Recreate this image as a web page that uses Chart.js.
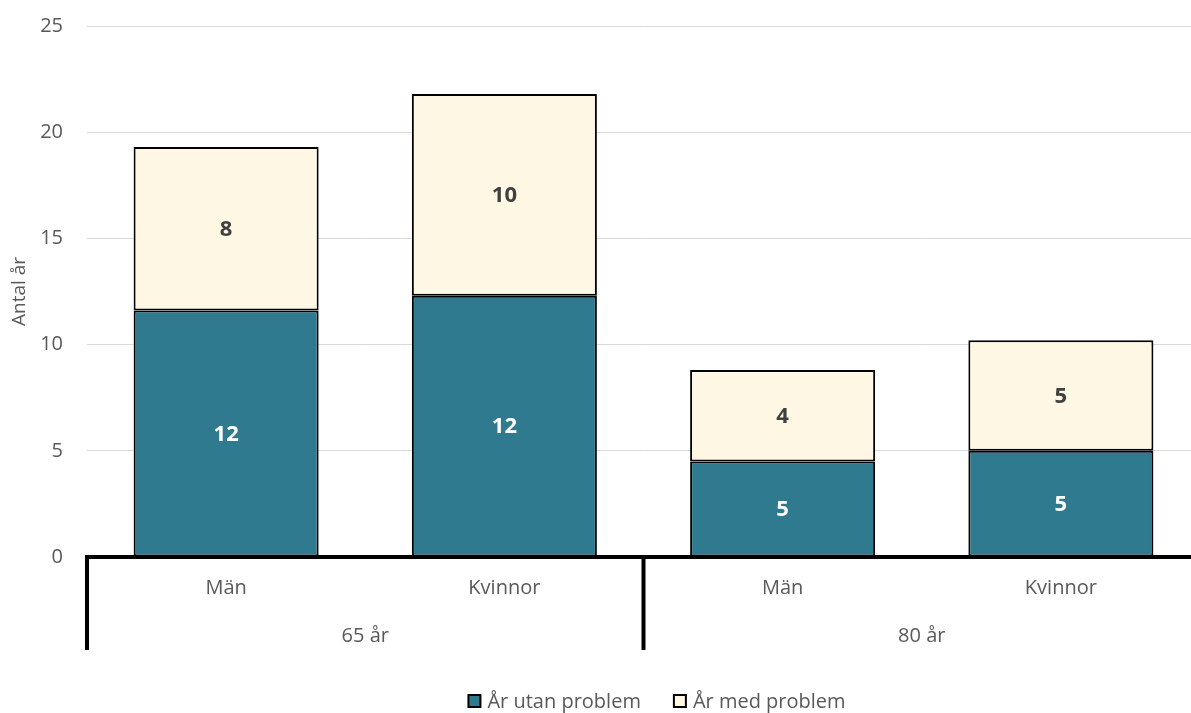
<!DOCTYPE html>
<html>
    <head>
        <meta charset="utf-8">
        <title>Antal år med och utan problem</title>
        <script src="https://cdn.jsdelivr.net/npm/chart.js@4.4.1/dist/chart.umd.min.js"></script>
        <style>
            html, body { margin: 0; padding: 0; background: #fff; overflow: hidden; }
            #wrap { position: relative; width: 1200px; height: 713px; }
        </style>
    </head>
    <body>
        <div id="wrap"><canvas id="myChart"></canvas></div>

        <script>
            // age groups, each spanning two bars
            const groups = ['65 år', '80 år'];
            const sexes = ['Män', 'Kvinnor', 'Män', 'Kvinnor'];
            // years without / with problems
            const utanProblem = [11.6, 12.3, 4.5, 5.0];
            const medProblem = [7.7, 9.5, 4.3, 5.2];
            const yTicks = [0, 5, 10, 15, 20, 25];

            const textGrey = '#595959';
            const font = '"Open Sans", "DejaVu Sans", sans-serif';

            const extras = {
                id: 'extras',
                afterDatasetsDraw(chart) {
                    const ctx = chart.ctx;
                    const area = chart.chartArea;
                    const x = chart.scales.x;

                    // value labels inside each segment
                    ctx.save();
                    ctx.font = 'bold 22px ' + font;
                    ctx.textAlign = 'center';
                    ctx.textBaseline = 'middle';
                    chart.data.datasets.forEach((ds, i) => {
                        chart.getDatasetMeta(i).data.forEach((bar, j) => {
                            ctx.fillStyle = i === 0 ? '#ffffff' : '#404040';
                            ctx.fillText(Math.round(ds.data[j]), bar.x, (bar.y + bar.base) / 2 + 1);
                        });
                    });
                    ctx.restore();

                    // thick baseline + group dividers
                    ctx.save();
                    ctx.strokeStyle = '#000';
                    ctx.lineWidth = 4;
                    ctx.beginPath();
                    ctx.moveTo(area.left - 2, area.bottom);
                    ctx.lineTo(area.right, area.bottom);
                    const step = x.getPixelForValue(1) - x.getPixelForValue(0);
                    for (let g = 0; g < groups.length; g++) {
                        const lx = x.getPixelForValue(g * 2) - step / 2;
                        ctx.moveTo(lx, area.bottom);
                        ctx.lineTo(lx, area.bottom + 93);
                    }
                    ctx.stroke();
                    ctx.restore();

                    // category and group labels
                    ctx.save();
                    ctx.font = '20px ' + font;
                    ctx.fillStyle = textGrey;
                    ctx.textAlign = 'center';
                    ctx.textBaseline = 'middle';
                    sexes.forEach((s, i) => ctx.fillText(s, x.getPixelForValue(i), area.bottom + 31));
                    groups.forEach((g, i) => {
                        const cx = (x.getPixelForValue(i * 2) + x.getPixelForValue(i * 2 + 1)) / 2;
                        ctx.fillText(g, cx, area.bottom + 79);
                    });
                    ctx.restore();

                    // legend
                    ctx.save();
                    ctx.font = '20px ' + font;
                    ctx.textBaseline = 'middle';
                    const ly = 701;
                    const items = chart.data.datasets.map(ds => ({ ds, w: 19 + ctx.measureText(ds.label).width }));
                    const gap = 33;
                    const total = items.reduce((s, it) => s + it.w, 0) + gap * (items.length - 1);
                    let lx = 657 - total / 2;
                    items.forEach(it => {
                        ctx.fillStyle = it.ds.backgroundColor;
                        ctx.fillRect(lx, ly - 6, 12, 12);
                        ctx.strokeStyle = '#000';
                        ctx.lineWidth = 2;
                        ctx.strokeRect(lx, ly - 6, 12, 12);
                        ctx.fillStyle = textGrey;
                        ctx.fillText(it.ds.label, lx + 19, ly + 1);
                        lx += it.w + gap;
                    });
                    ctx.restore();
                }
            };

            const ctx = document.getElementById('myChart');
            const myChart = new Chart(ctx, {
                type: 'bar',
                data: {
                    labels: sexes,
                    datasets: [{
                        label: 'År utan problem',
                        data: utanProblem,
                        backgroundColor: '#2f7a8e',
                        borderColor: '#000',
                        borderWidth: 2,
                        borderSkipped: false,
                        categoryPercentage: 1,
                        barPercentage: 0.665
                    }, {
                        label: 'År med problem',
                        data: medProblem,
                        backgroundColor: '#fef7e3',
                        borderColor: '#000',
                        borderWidth: 2,
                        borderSkipped: false,
                        categoryPercentage: 1,
                        barPercentage: 0.665
                    }]
                },
                options: {
                    responsive: true,
                    maintainAspectRatio: false,
                    animation: false,
                    layout: { padding: { top: 26, left: 8, right: 0, bottom: 0 } },
                    plugins: {
                        legend: { display: false },
                        tooltip: { enabled: false }
                    },
                    scales: {
                        x: {
                            stacked: true,
                            grid: { display: false },
                            border: { display: false },
                            ticks: { display: false },
                            afterFit: (scale) => { scale.height = 156; }
                        },
                        y: {
                            stacked: true,
                            min: 0,
                            max: 25,
                            afterBuildTicks: (scale) => { scale.ticks = yTicks.map(v => ({ value: v })); },
                            afterFit: (scale) => {
                                scale.width = 79;
                                scale.paddingTop = 0;
                                scale.paddingBottom = 0;
                            },
                            grid: { color: '#d9d9d9', lineWidth: 1, drawTicks: false },
                            border: { display: false },
                            ticks: {
                                color: textGrey,
                                font: { family: font, size: 20 },
                                padding: 24
                            },
                            title: {
                                display: true,
                                text: 'Antal år',
                                color: textGrey,
                                font: { family: font, size: 19 },
                                padding: { top: 0, bottom: 0 }
                            }
                        }
                    }
                },
                plugins: [extras]
            });
        </script>
    </body>
</html>
